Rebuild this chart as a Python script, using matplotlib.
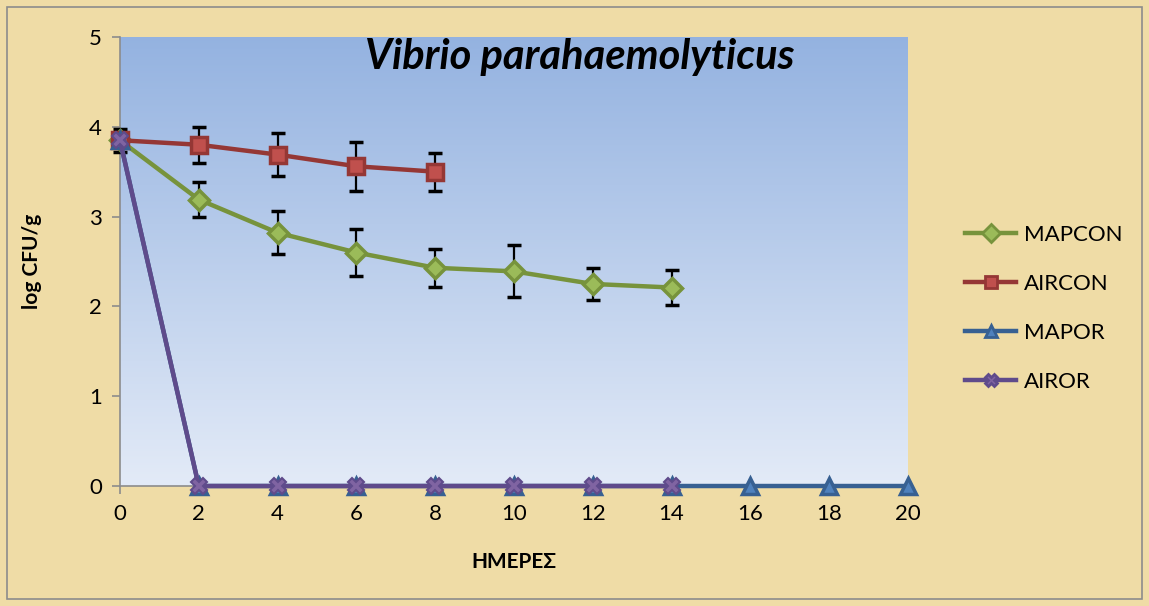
import numpy as np
import matplotlib.pyplot as plt
from matplotlib.patches import Rectangle
from matplotlib.lines import Line2D

days = [0, 2, 4, 6, 8, 10, 12, 14, 16, 18, 20]

mapcon = [3.85, 3.19, 2.82, 2.60, 2.43, 2.39, 2.25, 2.21]
mapcon_err = [0.0, 0.20, 0.24, 0.26, 0.21, 0.29, 0.18, 0.19]
aircon = [3.85, 3.80, 3.69, 3.56, 3.50]
aircon_err = [0.13, 0.20, 0.24, 0.27, 0.21]
mapor = [3.85, 0, 0, 0, 0, 0, 0, 0, 0, 0, 0]
airor = [3.85, 0, 0, 0, 0, 0, 0, 0]

labels = ['MAPCON', 'AIRCON', 'MAPOR', 'AIROR']
line_c = ['#77933c', '#953735', '#376092', '#5f4b8b']
fill_c = ['#9bbb59', '#c0504d', '#4f81bd', '#8064a2']
marks = ['D', 's', '^', 'X']

plt.rcParams['font.family'] = ['Lato', 'DejaVu Sans']

fig = plt.figure(figsize=(11.49, 6.06), dpi=100)
fig.patch.set_facecolor('#efdca6')
fig.add_artist(Rectangle((0.006, 0.012), 0.988, 0.976, transform=fig.transFigure,
                         fill=False, edgecolor='#8c8c8c', linewidth=1.2))

ax = fig.add_axes([0.1044, 0.198, 0.6858, 0.741])

# gradient plot area
grad = np.linspace(0, 1, 256)
top = np.array([0.58, 0.70, 0.88])
bot = np.array([0.89, 0.92, 0.97])
img = (top + (bot - top) * grad[:, None]).reshape(256, 1, 3)
ax.imshow(img, extent=[0, 20, 0, 5], aspect='auto', zorder=0, origin='upper')

ax.errorbar(days[:8], mapcon, yerr=mapcon_err, color=line_c[0], lw=3.2, marker=marks[0],
            ms=10, mfc=fill_c[0], mec=line_c[0], mew=2.5, ecolor='black', elinewidth=1.6,
            capsize=5, capthick=1.6, zorder=3, clip_on=False)
ax.errorbar(days[:5], aircon, yerr=aircon_err, color=line_c[1], lw=3.2, marker=marks[1],
            ms=12, mfc=fill_c[1], mec=line_c[1], mew=2.5, ecolor='black', elinewidth=1.6,
            capsize=5, capthick=1.6, zorder=3, clip_on=False)
ax.plot(days, mapor, color=line_c[2], lw=3.2, marker=marks[2], ms=11, mfc=fill_c[2],
        mec=line_c[2], mew=2.5, zorder=4, clip_on=False)
ax.plot(days[:8], airor, color=line_c[3], lw=3.2, marker=marks[3], ms=12, mfc=fill_c[3],
        mec=line_c[3], mew=1.5, zorder=5, clip_on=False)

ax.set_xlim(0, 20)
ax.set_ylim(0, 5)
ax.set_xticks(days)
ax.set_yticks([0, 1, 2, 3, 4, 5])
ax.tick_params(labelsize=16, color='#8c8c8c', length=6, width=1.2, pad=7)
for s in ['top', 'right']:
    ax.spines[s].set_visible(False)
for s in ['left', 'bottom']:
    ax.spines[s].set_color('#8c8c8c')
    ax.spines[s].set_linewidth(1.2)

ax.set_xlabel('ΗΜΕΡΕΣ', fontsize=15, fontweight='bold', labelpad=20)
ax.set_ylabel('log CFU/g', fontsize=15, fontweight='bold', labelpad=34)
ax.text(0.584, 0.955, 'Vibrio parahaemolyticus', transform=ax.transAxes, ha='center',
        va='center', fontsize=30, fontweight='bold', fontstyle='italic')

handles = [Line2D([], [], color=line_c[i], lw=3.2, marker=marks[i], ms=9,
                  mfc=fill_c[i], mec=line_c[i], mew=2) for i in range(4)]
ax.legend(handles, labels, loc='center left', bbox_to_anchor=(1.047, 0.396), frameon=False,
          fontsize=16, labelspacing=1.3, handlelength=2.3, handletextpad=0.35)

fig.savefig('out.png', dpi=100, facecolor=fig.get_facecolor())
